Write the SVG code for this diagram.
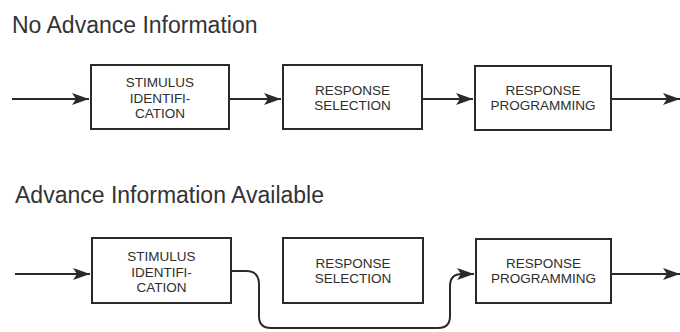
<svg xmlns="http://www.w3.org/2000/svg" width="680" height="332" viewBox="0 0 680 332">
<style>
.bg{fill:#ffffff}
.box{fill:#ffffff;stroke:#2a2a2a;stroke-width:2}
.lbl{font-family:"Liberation Sans",Arial,sans-serif;font-size:13.5px;fill:#2e2e2e;text-anchor:middle}
.ttl{font-family:"Liberation Sans",Arial,sans-serif;font-size:23px;fill:#333333}
.con{fill:none;stroke:#2a2a2a;stroke-width:2}
</style>
<defs>
<marker id="ah" viewBox="0 0 17 12" refX="17" refY="6" markerWidth="17" markerHeight="12" markerUnits="userSpaceOnUse" orient="auto">
<path d="M0,0 L17,6 L0,12 L4,6 Z" fill="#2a2a2a"/>
</marker>
</defs>
<rect class="bg" x="0" y="0" width="680" height="332"/>
<text class="ttl" x="12" y="33">No Advance Information</text>
<text class="ttl" x="15" y="203">Advance Information Available</text>
<g id="connectors">
<path class="con" d="M12,99 H89" marker-end="url(#ah)"/>
<path class="con" d="M229,99 H281" marker-end="url(#ah)"/>
<path class="con" d="M422,99 H473" marker-end="url(#ah)"/>
<path class="con" d="M611,99 H680" marker-end="url(#ah)"/>
<path class="con" d="M15,274 H90" marker-end="url(#ah)"/>
<path class="con" d="M231,271 H246 Q259,271 259,284 V316 Q259,328 271,328 H438 Q450,328 450,316 V286 Q450,274 462,274 H474" marker-end="url(#ah)"/>
<path class="con" d="M611,274 H680" marker-end="url(#ah)"/>
</g>
<g id="n1"><rect class="box" x="91" y="65" width="138" height="64"/>
<text class="lbl" x="160" y="87">STIMULUS</text><text class="lbl" x="160" y="102.5">IDENTIFI-</text><text class="lbl" x="160" y="118">CATION</text></g>
<g id="n2"><rect class="box" x="283" y="65" width="139" height="64"/>
<text class="lbl" x="352.5" y="95">RESPONSE</text><text class="lbl" x="352.5" y="110">SELECTION</text></g>
<g id="n3"><rect class="box" x="475" y="66" width="136" height="64"/>
<text class="lbl" x="543" y="95">RESPONSE</text><text class="lbl" x="543" y="110">PROGRAMMING</text></g>
<g id="n4"><rect class="box" x="92" y="238" width="139" height="65"/>
<text class="lbl" x="161.5" y="261">STIMULUS</text><text class="lbl" x="161.5" y="276.5">IDENTIFI-</text><text class="lbl" x="161.5" y="292">CATION</text></g>
<g id="n5"><rect class="box" x="283" y="238" width="140" height="65"/>
<text class="lbl" x="353" y="268">RESPONSE</text><text class="lbl" x="353" y="283">SELECTION</text></g>
<g id="n6"><rect class="box" x="476" y="239" width="135" height="64"/>
<text class="lbl" x="543.5" y="268">RESPONSE</text><text class="lbl" x="543.5" y="283">PROGRAMMING</text></g>
</svg>
